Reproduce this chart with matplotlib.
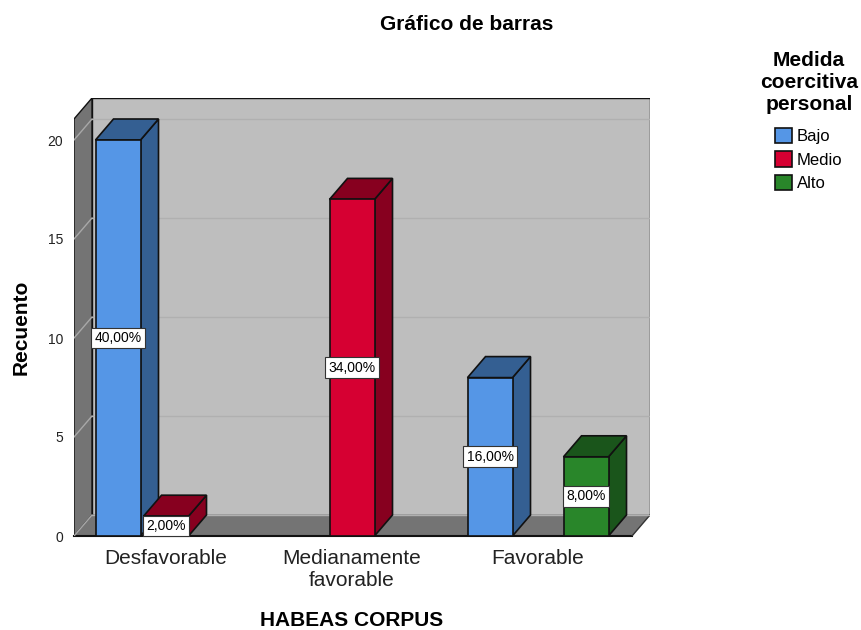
#!/usr/bin/env python3
# -*- coding: utf-8 -*-
"""
Bar chart with the old 3D box look, drawn on plain 2D axes
"""
import numpy as np
import matplotlib
matplotlib.use('Agg')
import matplotlib.pyplot as plt
from matplotlib.patches import Polygon, Patch

plt.rcParams['font.family'] = ['Liberation Sans', 'DejaVu Sans']

categories = ['Desfavorable', 'Medianamente\nfavorable', 'Favorable']
series = ['Bajo', 'Medio', 'Alto']
bajo = [20, 0, 8]
medio = [1, 17, 0]
alto = [0, 0, 4]
bajo_pct = ['40,00%', '', '16,00%']
medio_pct = ['2,00%', '34,00%', '']
alto_pct = ['', '', '8,00%']
yticks = [0, 5, 10, 15, 20]

front = ['#5596E6', '#D60032', '#29862A']
shade = ['#345F92', '#87001F', '#1A551B']
wall = '#BEBEBE'
dark = '#747474'

# layout in pixels of the 861x630 figure
W, H = 861, 630
left, right, top, bottom = 74, 650, 98, 536
fig = plt.figure(figsize=(W/100, H/100), dpi=100)
ax = fig.add_axes([left/W, 1-bottom/H, (right-left)/W, (bottom-top)/H])

px_x = 186.0     # pixels per category
px_y = 19.8      # pixels per count
ax.set_xlim((left-166)/px_x, (right-166)/px_x)
ax.set_ylim(0, (bottom-top)/px_y)
dx = 18/px_x     # box depth
dy = 21/px_y
ymax = ax.get_ylim()[1]
x0, x1 = ax.get_xlim()
wid = 45/px_x
step = 48/px_x

for s in ax.spines.values():
    s.set_visible(False)

# walls and floor
ec = '#111111'
ax.add_patch(Polygon([(x0+dx, dy), (x1, dy), (x1, ymax), (x0+dx, ymax)], fc=wall, ec=ec, lw=1.0, zorder=1))
ax.add_patch(Polygon([(x0, 0), (x0+dx, dy), (x0+dx, ymax), (x0, ymax-dy)], fc=dark, ec=ec, lw=1.0, zorder=1))
ax.add_patch(Polygon([(x0, 0), (x1-dx, 0), (x1, dy), (x0+dx, dy)], fc=dark, ec='none', zorder=1))
ax.plot([x0, x1-dx], [0, 0], color=ec, lw=1.5, zorder=2, clip_on=False)
ax.plot([x1-dx, x1], [0, dy], color='#333333', lw=1, zorder=2)

# gridlines, light on the side wall and a bit darker on the back
for t in yticks:
    ax.plot([x0, x0+dx], [t, t+dy], color='#A8A8A8', lw=1, zorder=2)
    ax.plot([x0+dx, x1], [t+dy, t+dy], color='#B0B0B0', lw=1.0, zorder=2)

# boxes, left to right so the nearer faces paint over
pos = np.arange(len(categories))
values = [bajo, medio, alto]
pcts = [bajo_pct, medio_pct, alto_pct]
for c in pos:
    for k in range(len(series)):
        v = values[k][c]
        if v == 0:
            continue
        xa = c + (k-1)*step - wid/2
        xb = xa + wid
        ax.add_patch(Polygon([(xb, 0), (xb+dx, dy), (xb+dx, v+dy), (xb, v)], fc=shade[k], ec=ec, lw=1.2, zorder=3))
        ax.add_patch(Polygon([(xa, v), (xb, v), (xb+dx, v+dy), (xa+dx, v+dy)], fc=shade[k], ec=ec, lw=1.2, zorder=3))
        ax.bar(xa+wid/2, v, wid, color=front[k], edgecolor=ec, lw=1.2, zorder=3)

# percent labels go on top of everything
for c in pos:
    for k in range(len(series)):
        v = values[k][c]
        if v == 0:
            continue
        ax.text(c + (k-1)*step, v/2, pcts[k][c], fontsize=10, ha='center', va='center', zorder=5,
                bbox=dict(boxstyle='square,pad=0.24', fc='white', ec='#333333', lw=0.8))

ax.set_yticks(yticks)
ax.set_yticklabels([str(t) for t in yticks], fontsize=10, color='#222222')
ax.set_xticks(pos)
ax.set_xticklabels(categories, fontsize=15, color='#222222', linespacing=1.2)
ax.tick_params(axis='both', length=0)
ax.tick_params(axis='y', pad=8)
ax.tick_params(axis='x', pad=9)

fig.text(467/W, 1-25/H, 'Gráfico de barras', fontsize=15, fontweight='bold', ha='center', va='center')
fig.text(352/W, 1-621/H, 'HABEAS CORPUS', fontsize=15, fontweight='bold', ha='center', va='center')
fig.text(21/W, 1-327/H, 'Recuento', fontsize=15, fontweight='bold', rotation=90, ha='center', va='center')
fig.text(809/W, 1-83/H, 'Medida\ncoercitiva\npersonal', fontsize=15, fontweight='bold', ha='center', va='center', linespacing=1.2)

handles = [Patch(fc=front[k], ec=ec, lw=1.2, label=series[k]) for k in range(len(series))]
fig.legend(handles=handles, loc='upper left', bbox_to_anchor=(770/W, 1-123/H), frameon=False, fontsize=12,
           handlelength=1.0, handleheight=1.05, labelspacing=0.42, handletextpad=0.3, borderpad=0.3, borderaxespad=0)

plt.savefig('out.png', dpi=100)
